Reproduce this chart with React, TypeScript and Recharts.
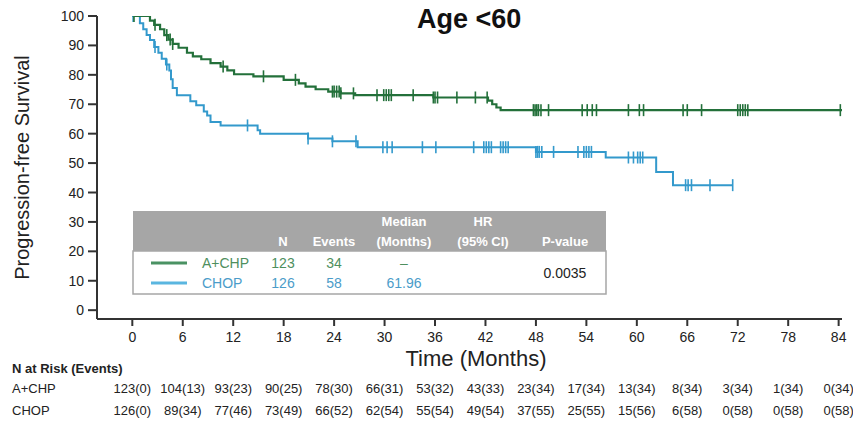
import React from "react";
import { ComposedChart, Line, Scatter, XAxis, YAxis } from "recharts";

// ---- data ----
const monthTicks = [0, 6, 12, 18, 24, 30, 36, 42, 48, 54, 60, 66, 72, 78, 84];
const yTicks = [0, 10, 20, 30, 40, 50, 60, 70, 80, 90, 100];

// Kaplan-Meier step points [month, PFS %]
const aChpTimes = [0, 2.1, 2.6, 3.3, 3.8, 4.3, 4.8, 5.5, 6.5, 7.2, 8.2, 9.3, 10.5, 11.3, 12.1, 14.4, 18.0, 19.8, 20.6, 21.8, 23.3, 24.8, 26.5, 35.8, 42.3, 42.8, 43.3, 43.8, 84.4];
const aChpValues = [100, 98.4, 97.0, 95.5, 93.5, 92.0, 90.5, 89.2, 87.5, 86.3, 85.3, 84.0, 82.8, 81.5, 80.2, 79.5, 78.3, 77.1, 76.0, 75.1, 74.3, 73.7, 73.1, 72.3, 71.2, 70.0, 68.9, 68.0, 68.0];
const chopTimes = [0, 0.9, 1.3, 1.7, 2.1, 2.6, 3.1, 3.5, 4.0, 4.4, 4.6, 4.8, 5.3, 6.9, 7.6, 8.5, 8.9, 9.3, 10.5, 14.9, 15.2, 20.9, 23.8, 26.8, 48.0, 56.3, 62.3, 64.3, 71.4];
const chopValues = [100, 97.5, 95.5, 93.5, 91.8, 89.5, 87.5, 85.5, 83.5, 81.5, 78.5, 75.5, 73.1, 71.0, 69.7, 67.5, 66.2, 64.0, 62.8, 61.2, 60.0, 58.4, 57.4, 55.4, 53.8, 51.9, 47.0, 42.5, 42.5];

// censoring times (months)
const aChpCensor = [0.2, 2.7, 4.1, 4.5, 4.8, 10.8, 15.6, 19.4, 23.8, 24.0, 24.3, 24.6, 24.8, 26.3, 29.1, 29.9, 30.2, 30.5, 30.8, 33.4, 35.8, 36.0, 36.3, 38.6, 40.8, 42.2, 47.7, 47.9, 48.1, 48.3, 48.6, 49.5, 53.5, 54.1, 54.7, 55.2, 59.0, 60.3, 60.8, 65.5, 66.0, 67.7, 72.0, 72.3, 72.6, 72.9, 73.2, 84.2];
const chopCensor = [0.1, 2.7, 4.1, 13.7, 20.9, 23.8, 26.6, 29.8, 30.3, 30.9, 34.5, 36.1, 40.6, 41.8, 42.1, 42.4, 42.7, 43.8, 44.1, 44.4, 44.7, 48.0, 48.2, 48.4, 48.7, 50.1, 53.0, 53.7, 54.0, 54.3, 54.6, 59.0, 59.6, 60.1, 60.4, 60.7, 65.8, 66.1, 66.5, 68.7, 71.4];

// at-risk table
const riskAChp = ["123(0)", "104(13)", "93(23)", "90(25)", "78(30)", "66(31)", "53(32)", "43(33)", "23(34)", "17(34)", "13(34)", "8(34)", "3(34)", "1(34)", "0(34)"];
const riskChop = ["126(0)", "89(34)", "77(46)", "73(49)", "66(52)", "62(54)", "55(54)", "49(54)", "37(55)", "25(55)", "15(56)", "6(58)", "0(58)", "0(58)", "0(58)"];

// summary table
const armNames = ["A+CHP", "CHOP"];
const armN = ["123", "126"];
const armEvents = ["34", "58"];
const armMedian = ["\u2013", "61.96"];
const pValue = "0.0035";

// ---- helpers ----
const GREEN = "#23703a";
const BLUE = "#3399cc";
const NARROW = "'Liberation Sans Narrow', 'Liberation Sans', Arial, sans-serif";
const SANS = "'Liberation Sans', Arial, sans-serif";

const toSeries = (ts: number[], vs: number[]) => ts.map((t, i) => ({ t, v: vs[i] }));
const valueAt = (ts: number[], vs: number[], t: number) => {
  let v = vs[0];
  for (let i = 0; i < ts.length; i++) if (ts[i] <= t) v = vs[i];
  return v;
};
const aChpData = toSeries(aChpTimes, aChpValues);
const chopData = toSeries(chopTimes, chopValues);
const aChpCens = aChpCensor.map((t) => ({ t, v: valueAt(aChpTimes, aChpValues, t) }));
const chopCens = chopCensor.map((t) => ({ t, v: valueAt(chopTimes, chopValues, t) }));

const censorShape = (color: string) => (props: any) => {
  const { cx, cy } = props;
  if (cx == null || cy == null) return <g />;
  return <line x1={cx} x2={cx} y1={cy - 6} y2={cy + 6} stroke={color} strokeWidth={1.6} />;
};

const XTick = (props: any) => {
  const { x, y, payload } = props;
  const i = monthTicks.indexOf(payload.value);
  return (
    <g>
      <text x={x} y={y + 16} textAnchor="middle" fontSize={14} fontFamily={NARROW} fill="#222">
        {payload.value}
      </text>
      <text x={x} y={y + 67} textAnchor="middle" fontSize={13} fontFamily={NARROW} fill="#222">
        {riskAChp[i]}
      </text>
      <text x={x} y={y + 89} textAnchor="middle" fontSize={13} fontFamily={NARROW} fill="#222">
        {riskChop[i]}
      </text>
    </g>
  );
};

const YTick = (props: any) => {
  const { x, y, payload } = props;
  return (
    <text x={x} y={y + 5} textAnchor="end" fontSize={14} fontFamily={NARROW} fill="#222">
      {payload.value}
    </text>
  );
};

export default function App() {
  const rowColors = ["#4e8f5e", "#4b9cc9"];
  const lineColors = ["#4a9263", "#5ab6e0"];
  return (
    <div style={{ position: "absolute", left: 0, top: 0, width: 853, height: 424, background: "#fff" }}>
      <ComposedChart width={853} height={424} margin={{ top: 16, right: 11, bottom: 0, left: 0 }}>
        <XAxis
          dataKey="t"
          type="number"
          domain={[-4.2, 84.4]}
          allowDataOverflow
          ticks={monthTicks}
          interval={0}
          height={105}
          tickSize={7}
          tickMargin={0}
          tick={<XTick />}
          axisLine={{ stroke: "#333", strokeWidth: 2 }}
          tickLine={{ stroke: "#333", strokeWidth: 2 }}
        />
        <YAxis
          dataKey="v"
          type="number"
          domain={[-3, 100]}
          allowDataOverflow
          ticks={yTicks}
          interval={0}
          width={97}
          tickSize={9}
          tickMargin={4}
          tick={<YTick />}
          axisLine={{ stroke: "#333", strokeWidth: 2 }}
          tickLine={{ stroke: "#333", strokeWidth: 2 }}
          label={{
            value: "Progression-free Survival",
            angle: -90,
            position: "insideLeft",
            offset: 22,
            style: { textAnchor: "middle", fontSize: 20, fontFamily: SANS, fill: "#222" },
          }}
        />
        <Line data={chopData} dataKey="v" type="stepAfter" stroke={BLUE} strokeWidth={2} dot={false} isAnimationActive={false} />
        <Line data={aChpData} dataKey="v" type="stepAfter" stroke={GREEN} strokeWidth={2.2} dot={false} isAnimationActive={false} />
        <Scatter data={chopCens} dataKey="v" fill={BLUE} shape={censorShape(BLUE)} isAnimationActive={false} />
        <Scatter data={aChpCens} dataKey="v" fill={GREEN} shape={censorShape(GREEN)} isAnimationActive={false} />
      </ComposedChart>
      <svg width={853} height={424} style={{ position: "absolute", left: 0, top: 0, pointerEvents: "none" }}>
        <text x={417} y={28} fontSize={27} fontWeight="bold" fontFamily={SANS} fill="#111">
          Age &lt;60
        </text>
        <text x={476} y={366} textAnchor="middle" fontSize={22} fontFamily={SANS} fill="#222">
          Time (Months)
        </text>
        <text x={12} y={373} fontSize={13} fontWeight="bold" fontFamily={NARROW} fill="#222">
          N at Risk (Events)
        </text>
        <text x={12} y={393} fontSize={13} fontFamily={NARROW} fill="#222">{armNames[0]}</text>
        <text x={12} y={415} fontSize={13} fontFamily={NARROW} fill="#222">{armNames[1]}</text>

        {/* summary table */}
        <rect x={133} y={211} width={473} height={40} fill="#a6a6a6" />
        <rect x={133} y={251} width={473} height={43} fill="#fff" stroke="#a6a6a6" strokeWidth={1.5} />
        <g fontFamily={SANS} fontSize={13} fontWeight="bold" fill="#fff" textAnchor="middle">
          <text x={404} y={226}>Median</text>
          <text x={404} y={246}>(Months)</text>
          <text x={483} y={226}>HR</text>
          <text x={483} y={246}>(95% CI)</text>
          <text x={283} y={246}>N</text>
          <text x={334} y={246}>Events</text>
          <text x={565} y={246}>P-value</text>
        </g>
        {[0, 1].map((r) => (
          <g key={r} fontFamily={SANS} fontSize={14} fill={rowColors[r]}>
            <line x1={151} x2={187} y1={263 + r * 20} y2={263 + r * 20} stroke={lineColors[r]} strokeWidth={3} />
            <text x={202} y={268 + r * 20}>{armNames[r]}</text>
            <text x={283} y={268 + r * 20} textAnchor="middle">{armN[r]}</text>
            <text x={334} y={268 + r * 20} textAnchor="middle">{armEvents[r]}</text>
            <text x={404} y={268 + r * 20} textAnchor="middle">{armMedian[r]}</text>
          </g>
        ))}
        <text x={565} y={278} textAnchor="middle" fontFamily={SANS} fontSize={14} fill="#222">{pValue}</text>
      </svg>
    </div>
  );
}
